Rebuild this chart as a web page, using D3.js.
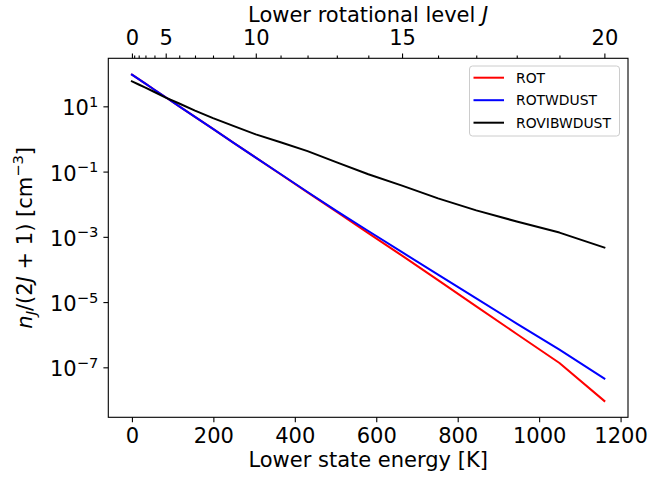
<!DOCTYPE html>
<html>
<head>
<meta charset="utf-8">
<script src="https://cdn.jsdelivr.net/npm/d3@7"></script>
<style>
  html, body { margin: 0; padding: 0; background: #fff; }
  svg { display: block; font-family: "DejaVu Sans", sans-serif; }
</style>
</head>
<body>
<svg id="chart" width="649" height="480"></svg>
<script>
// Lower rotational level J and its lower state energy E_J [K]
const levelJ = [0, 1, 2, 3, 4, 5, 6, 7, 8, 9, 10, 11, 12, 13, 14, 15, 16, 17, 18, 19, 20];
const energyK = [0, 5.53, 16.60, 33.19, 55.32, 82.97, 116.16, 154.87, 199.11, 248.88, 304.16,
                 364.97, 431.29, 503.13, 580.49, 663.35, 751.72, 845.59, 944.97, 1049.84, 1160.20];

// Level populations per sublevel, n_J/(2J+1) [cm^-3]
const rot = [93.8, 84.3, 68.1, 49.5, 32.3, 18.97, 10.02, 4.75, 2.03, 0.776, 0.268,
             0.0830, 0.0231, 5.79e-3, 1.30e-3, 2.64e-4, 4.70e-5, 7.4e-6, 1.05e-6, 1.36e-7, 9.3e-9];
const rotWDust = [93.8, 84.3, 68.1, 49.5, 32.3, 18.97, 10.02, 4.75, 2.03, 0.776, 0.268,
                  0.0841, 0.0237, 6.17e-3, 1.51e-3, 3.39e-4, 6.92e-5, 1.29e-5, 2.19e-6, 3.47e-7, 4.53e-8];
const roVibWDust = [58.5, 54.3, 46.8, 37.6, 27.5, 18.6, 12.2, 7.41, 4.37, 2.51, 1.38,
                    0.794, 0.425, 0.191, 0.0832, 0.0372, 0.0151, 6.46e-3, 2.95e-3, 1.35e-3, 4.68e-4];

const seriesNames = ["ROT", "ROTWDUST", "ROVIBWDUST"];
const seriesColors = ["#ff0000", "#0000ff", "#000000"];

// Tick values
const xTicks = [0, 200, 400, 600, 800, 1000, 1200];
const yTickExp = [1, -1, -3, -5, -7];
const jLabelled = [0, 5, 10, 15, 20];

const svg = d3.select("#chart");
const plot = { left: 108.3, right: 628, top: 58.3, bottom: 417.3 };
const FONT = 21;

// x: linear with 5% padding around the data range
const xMin = d3.min(energyK), xMax = d3.max(energyK);
const xPad = 0.05 * (xMax - xMin);
const x = d3.scaleLinear().domain([xMin - xPad, xMax + xPad]).range([plot.left, plot.right]);

// y: logarithmic with 5% padding in log space
const allVals = rot.concat(rotWDust, roVibWDust);
const lmin = Math.log10(d3.min(allVals)), lmax = Math.log10(d3.max(allVals));
const lpad = 0.05 * (lmax - lmin);
const y = d3.scaleLog().domain([Math.pow(10, lmin - lpad), Math.pow(10, lmax + lpad)])
  .range([plot.bottom, plot.top]);

// Curves
const line = d3.line().x(d => x(d[0])).y(d => y(d[1]));
[rot, rotWDust, roVibWDust].forEach((vals, i) => {
  svg.append("path")
    .datum(energyK.map((e, k) => [e, vals[k]]))
    .attr("d", line)
    .attr("fill", "none")
    .attr("stroke", seriesColors[i])
    .attr("stroke-width", 2)
    .attr("stroke-linejoin", "round")
    .attr("stroke-linecap", "square");
});

function styleAxis(g) {
  g.select(".domain").remove();
  g.selectAll(".tick line").attr("stroke", "#000").attr("stroke-width", 1.1);
  g.selectAll(".tick text").attr("fill", "#000").attr("font-size", FONT)
    .attr("font-family", "DejaVu Sans");
}

// Bottom axis: energy
const gx = svg.append("g").attr("transform", `translate(0,${plot.bottom})`)
  .call(d3.axisBottom(x).tickValues(xTicks).tickSize(4.9).tickPadding(4.9).tickFormat(d3.format("d")))
  .call(styleAxis);
gx.selectAll(".tick text").attr("dy", null).attr("y", 26.2);

// Left axis: log scale with superscript exponents
const gy = svg.append("g").attr("transform", `translate(${plot.left},0)`)
  .call(d3.axisLeft(y).tickValues(yTickExp.map(e => Math.pow(10, e))).tickSize(4.9).tickPadding(4.9).tickFormat(""))
  .call(styleAxis);
gy.selectAll(".tick").each(function (d) {
  const t = d3.select(this).select("text");
  const e = Math.round(Math.log10(d));
  t.attr("x", -10).attr("dy", null).attr("y", 8.6).attr("text-anchor", "end");
  t.text(null);
  t.append("tspan").text("10");
  t.append("tspan").attr("font-size", FONT * 0.7).attr("dy", -8.6)
    .text(e < 0 ? "\u2212" + Math.abs(e) : String(e));
});

// Top axis: lower rotational level J at its energy
svg.append("g").attr("transform", `translate(0,${plot.top})`)
  .call(d3.axisTop(x).tickValues(energyK.filter((e, k) => !jLabelled.includes(levelJ[k])))
    .tickSize(2.8).tickFormat(""))
  .call(styleAxis);
const gTop = svg.append("g").attr("transform", `translate(0,${plot.top})`)
  .call(d3.axisTop(x).tickValues(jLabelled.map(j => energyK[levelJ.indexOf(j)]))
    .tickSize(4.9).tickPadding(4.9)
    .tickFormat(e => String(levelJ[energyK.indexOf(e)])))
  .call(styleAxis);
gTop.selectAll(".tick text").attr("dy", null).attr("y", -13.3);

// Frame
svg.append("rect")
  .attr("x", plot.left).attr("y", plot.top)
  .attr("width", plot.right - plot.left).attr("height", plot.bottom - plot.top)
  .attr("fill", "none").attr("stroke", "#000").attr("stroke-width", 1.1);

// Axis titles
svg.append("text")
  .attr("x", (plot.left + plot.right) / 2).attr("y", 467)
  .attr("text-anchor", "middle").attr("font-size", FONT)
  .text("Lower state energy [K]");

const topTitle = svg.append("text")
  .attr("x", (plot.left + plot.right) / 2).attr("y", 21.5)
  .attr("text-anchor", "middle").attr("font-size", FONT);
topTitle.append("tspan").text("Lower rotational level ");
topTitle.append("tspan").attr("font-style", "italic").text("J");

const yTitle = svg.append("text")
  .attr("transform", `translate(32,${(plot.top + plot.bottom) / 2}) rotate(-90)`)
  .attr("text-anchor", "middle").attr("font-size", FONT);
yTitle.append("tspan").attr("font-style", "italic").text("n");
yTitle.append("tspan").attr("font-style", "italic").attr("font-size", FONT * 0.7).attr("dy", 4).text("J");
yTitle.append("tspan").attr("dy", -4).text("/(2");
yTitle.append("tspan").attr("font-style", "italic").text("J");
yTitle.append("tspan").text(" + 1) [cm");
yTitle.append("tspan").attr("font-size", FONT * 0.7).attr("dy", -8.6).text("\u22123");
yTitle.append("tspan").attr("dy", 8.6).text("]");

// Legend
const lg = svg.append("g");
lg.append("rect")
  .attr("x", 469.5).attr("y", 66).attr("width", 150).attr("height", 70)
  .attr("rx", 3).attr("fill", "#fff").attr("fill-opacity", 0.8)
  .attr("stroke", "#cccccc").attr("stroke-width", 1);
seriesNames.forEach((name, i) => {
  const yy = 77.7 + i * 22.5;
  lg.append("line").attr("x1", 473.5).attr("x2", 504).attr("y1", yy).attr("y2", yy)
    .attr("stroke", seriesColors[i]).attr("stroke-width", 2);
  lg.append("text").attr("x", 516).attr("y", yy + 5.1)
    .attr("font-size", 13.9).attr("fill", "#000").text(name);
});
</script>
</body>
</html>
